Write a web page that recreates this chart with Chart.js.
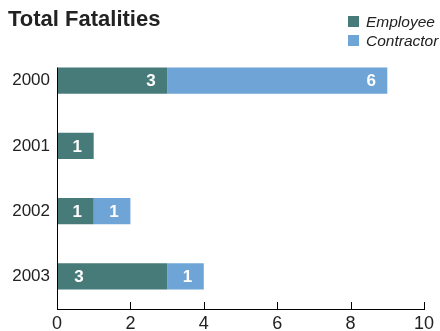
<!DOCTYPE html>
<html>
<head>
<meta charset="utf-8">
<script src="https://cdn.jsdelivr.net/npm/chart.js@4"></script>
<style>
  html, body { margin: 0; padding: 0; background: #fff; }
  #wrap { width: 440px; height: 331px; }
</style>
</head>
<body>
<div id="wrap"><canvas id="fatalChart" width="440" height="331"></canvas></div>
<script>
// chart data
const years = ['2000', '2001', '2002', '2003'];
const employee = [3, 1, 1, 3];
const contractor = [6, 0, 1, 1];
const xTicks = [0, 2, 4, 6, 8, 10];

const seriesNames = ['Employee', 'Contractor'];
const seriesColors = ['#477b7a', '#6fa5d6'];
// where the value label sits inside each bar
const labelAnchors = [['end', 'center', 'center', 'start'], ['end', 'center', 'center', 'center']];

const FONT = '"Liberation Sans", Arial, Helvetica, sans-serif';

// title, legend, axis line, inward ticks and bar labels
const decorations = {
    id: 'decorations',
    afterDatasetsDraw(chart) {
        const ctx = chart.ctx;
        const area = chart.chartArea;
        const xs = chart.scales.x;

        ctx.save();
        // title
        ctx.fillStyle = '#222';
        ctx.font = 'bold 22px ' + FONT;
        ctx.textAlign = 'left';
        ctx.textBaseline = 'alphabetic';
        ctx.fillText('Total Fatalities', 8, 26);

        // legend
        ctx.font = 'italic 15.5px ' + FONT;
        seriesNames.forEach(function (name, i) {
            const y = 16 + i * 19;
            ctx.fillStyle = seriesColors[i];
            ctx.fillRect(348, y, 11, 11);
            ctx.fillStyle = '#222';
            ctx.fillText(name, 366, y + 11);
        });

        // left axis line from first bar top
        const firstBar = chart.getDatasetMeta(0).data[0];
        const top = firstBar.y - firstBar.height / 2;
        ctx.strokeStyle = '#000';
        ctx.lineWidth = 1;
        ctx.beginPath();
        ctx.moveTo(area.left + 0.5, top);
        ctx.lineTo(area.left + 0.5, area.bottom);
        ctx.stroke();

        // bottom axis line + inward ticks
        ctx.beginPath();
        ctx.moveTo(area.left, area.bottom + 0.5);
        ctx.lineTo(area.right + 1, area.bottom + 0.5);
        xTicks.forEach(function (v) {
            const px = Math.round(xs.getPixelForValue(v)) + 0.5;
            ctx.moveTo(px, area.bottom);
            ctx.lineTo(px, area.bottom - 7);
        });
        ctx.stroke();

        // bar value labels
        ctx.fillStyle = '#fff';
        ctx.font = 'bold 17px ' + FONT;
        ctx.textAlign = 'center';
        ctx.textBaseline = 'middle';
        chart.data.datasets.forEach(function (ds, di) {
            chart.getDatasetMeta(di).data.forEach(function (bar, i) {
                const v = ds.data[i];
                if (!v) return;
                const left = bar.base;
                const right = bar.x;
                let x;
                if (labelAnchors[di][i] === 'end') x = right - 16;
                else if (labelAnchors[di][i] === 'start') x = left + 22;
                else x = (left + right) / 2 + 2;
                ctx.fillText(String(v), x, bar.y + 1);
            });
        });
        ctx.restore();
    }
};

new Chart(document.getElementById('fatalChart'), {
    type: 'bar',
    data: {
        labels: years,
        datasets: [
            { label: seriesNames[0], data: employee, backgroundColor: seriesColors[0] },
            { label: seriesNames[1], data: contractor, backgroundColor: seriesColors[1] }
        ]
    },
    options: {
        indexAxis: 'y',
        responsive: false,
        animation: false,
        layout: { padding: { top: 48, right: 16, left: 0, bottom: 0 } },
        categoryPercentage: 1,
        barPercentage: 0.4,
        plugins: {
            legend: { display: false },
            title: { display: false },
            tooltip: { enabled: false }
        },
        scales: {
            x: {
                stacked: true,
                min: 0,
                max: 10,
                afterFit: function (s) { s.height = 22; },
                afterBuildTicks: function (s) { s.ticks = xTicks.map(function (v) { return { value: v }; }); },
                grid: { display: false, drawTicks: false },
                border: { display: false },
                ticks: { padding: 4, color: '#222', font: { family: FONT, size: 18 }, maxRotation: 0 }
            },
            y: {
                stacked: true,
                afterFit: function (s) { s.width = 57; },
                grid: { display: false, drawTicks: false },
                border: { display: false },
                ticks: { padding: 7, color: '#222', font: { family: FONT, size: 17 } }
            }
        }
    },
    plugins: [decorations]
});
</script>
</body>
</html>
